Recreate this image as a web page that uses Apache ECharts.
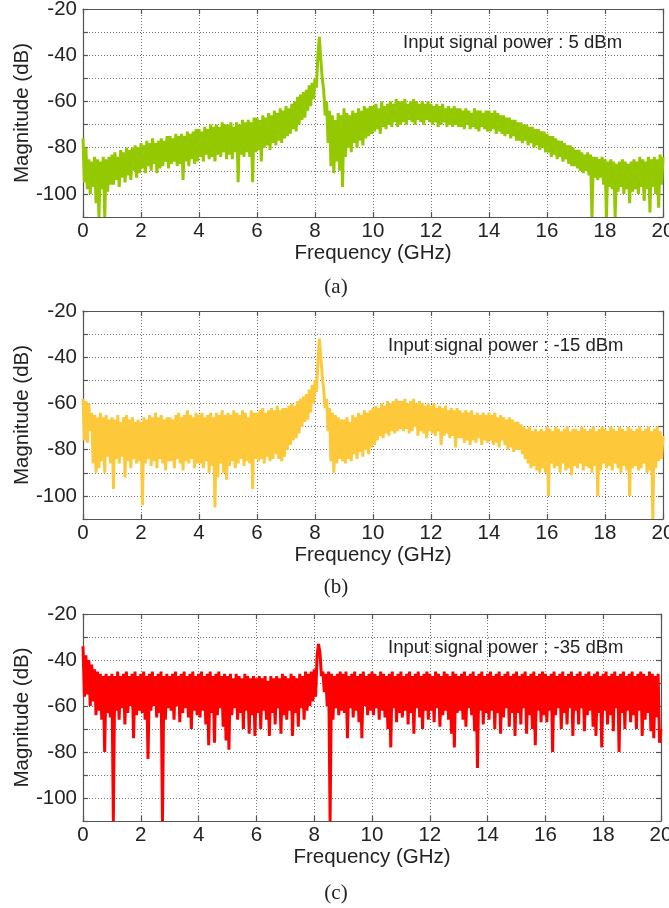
<!DOCTYPE html>
<html>
<head>
<meta charset="utf-8">
<script src="https://cdn.jsdelivr.net/npm/echarts@6/dist/echarts.min.js"></script>
<style>
  html,body{margin:0;padding:0;background:#fff;}
  #chart{width:669px;height:908px;}
</style>
</head>
<body>
<div id="chart"></div>
<script>
// spectra, 0..20 GHz, one row = 1 GHz (20 samples)
const magA = [
  -76,-95,-80,-98,-85,-100,-86,-97,-84,-104,-85,-110,-86,-98,-84,-110,-85,-99,-84,-96,
  -83,-96,-82,-94,-84,-97,-81,-93,-82,-95,-80,-92,-81,-94,-80,-90,-79,-93,-80,-91,
  -78,-89,-79,-91,-77,-88,-78,-90,-76,-87,-78,-91,-77,-89,-76,-88,-77,-86,-75,-89,
  -75,-87,-76,-86,-74,-88,-75,-87,-74,-94,-75,-86,-73,-88,-74,-85,-73,-87,-72,-86,
  -72,-84,-73,-86,-71,-83,-72,-85,-70,-84,-71,-86,-70,-83,-71,-84,-69,-82,-70,-85,
  -70,-83,-69,-85,-71,-82,-69,-95,-70,-83,-68,-84,-69,-82,-68,-84,-69,-95,-67,-82,
  -67,-81,-68,-86,-66,-80,-67,-79,-65,-81,-66,-78,-64,-79,-65,-77,-63,-78,-64,-76,
  -62,-75,-63,-74,-61,-72,-60,-73,-58,-70,-57,-68,-56,-67,-55,-64,-53,-62,-52,-59,
  -50,-54,-40,-32,-42,-50,-55,-66,-60,-78,-64,-88,-66,-91,-68,-86,-65,-90,-66,-97,
  -63,-84,-65,-80,-66,-82,-64,-78,-65,-80,-63,-77,-64,-79,-62,-76,-63,-75,-62,-74,
  -62,-73,-61,-72,-63,-74,-60,-71,-62,-72,-61,-70,-60,-71,-61,-69,-59,-71,-60,-70,
  -60,-69,-59,-70,-61,-68,-60,-69,-59,-70,-60,-68,-61,-69,-60,-70,-61,-68,-60,-69,
  -61,-70,-62,-69,-61,-71,-62,-70,-61,-69,-63,-71,-62,-70,-63,-71,-62,-70,-63,-71,
  -63,-71,-64,-72,-63,-70,-64,-72,-65,-71,-63,-72,-64,-73,-64,-71,-65,-72,-64,-73,
  -64,-73,-65,-72,-64,-74,-65,-73,-66,-74,-66,-75,-67,-74,-67,-76,-68,-75,-68,-77,
  -69,-77,-69,-78,-70,-77,-70,-79,-71,-78,-71,-80,-72,-79,-72,-81,-73,-80,-73,-82,
  -74,-82,-75,-84,-75,-83,-76,-85,-77,-84,-77,-86,-78,-85,-79,-87,-79,-88,-80,-88,
  -81,-89,-81,-90,-82,-91,-83,-90,-82,-92,-83,-110,-84,-93,-84,-94,-85,-93,-84,-96,
  -85,-110,-86,-97,-85,-98,-86,-110,-87,-99,-86,-97,-85,-100,-86,-98,-87,-104,-86,-99,
  -85,-98,-86,-100,-84,-97,-85,-103,-86,-98,-84,-108,-85,-97,-84,-100,-85,-106,-83,-96,
  -84
]
const magB = [
  -58,-76,-59,-77,-60,-72,-64,-86,-65,-90,-66,-88,-64,-85,-66,-90,-65,-83,-67,-86,
  -66,-97,-67,-84,-65,-86,-68,-83,-66,-92,-65,-85,-67,-88,-66,-84,-68,-86,-67,-85,
  -68,-104,-66,-86,-67,-84,-65,-87,-66,-85,-64,-88,-66,-84,-65,-86,-67,-89,-66,-85,
  -66,-85,-67,-88,-65,-84,-64,-86,-66,-89,-65,-85,-63,-86,-65,-84,-66,-88,-64,-86,
  -65,-86,-64,-88,-66,-85,-65,-90,-64,-87,-66,-105,-64,-92,-65,-86,-63,-90,-65,-93,
  -64,-87,-65,-85,-63,-88,-64,-86,-65,-84,-63,-87,-64,-85,-66,-86,-63,-97,-64,-84,
  -64,-85,-63,-84,-62,-86,-64,-83,-63,-85,-62,-84,-63,-82,-61,-84,-63,-85,-62,-83,
  -62,-80,-61,-78,-60,-76,-61,-75,-59,-73,-58,-70,-57,-68,-56,-67,-54,-64,-52,-60,
  -50,-55,-42,-32,-40,-48,-54,-62,-58,-72,-62,-85,-64,-90,-65,-86,-66,-84,-67,-85,
  -67,-86,-66,-84,-68,-85,-65,-82,-66,-84,-64,-81,-65,-83,-63,-80,-64,-82,-63,-79,
  -62,-78,-61,-76,-62,-74,-60,-75,-61,-73,-59,-74,-60,-72,-59,-73,-58,-72,-59,-71,
  -59,-72,-58,-71,-60,-73,-59,-72,-58,-70,-60,-74,-59,-72,-60,-73,-61,-75,-60,-72,
  -61,-73,-60,-74,-62,-72,-61,-78,-62,-74,-61,-73,-63,-75,-62,-74,-63,-79,-62,-75,
  -63,-75,-64,-77,-63,-76,-64,-78,-63,-76,-65,-77,-64,-75,-65,-78,-64,-76,-65,-77,
  -64,-76,-65,-78,-64,-77,-66,-79,-65,-76,-66,-78,-67,-80,-66,-79,-67,-81,-68,-80,
  -68,-80,-69,-82,-70,-84,-71,-86,-70,-88,-72,-87,-71,-89,-72,-90,-71,-88,-72,-90,
  -70,-100,-71,-86,-72,-88,-70,-87,-71,-90,-72,-86,-71,-89,-70,-88,-72,-91,-71,-87,
  -71,-88,-72,-86,-70,-89,-71,-87,-72,-88,-71,-90,-70,-87,-72,-100,-71,-89,-70,-86,
  -71,-88,-72,-87,-70,-89,-71,-86,-72,-88,-70,-90,-71,-87,-72,-89,-70,-100,-71,-88,
  -72,-87,-71,-89,-70,-88,-72,-86,-71,-90,-70,-89,-72,-110,-71,-88,-70,-85,-72,-84,
  -74
]
const magC = [
  -34,-56,-38,-55,-40,-60,-42,-58,-44,-64,-45,-62,-46,-66,-47,-80,-46,-63,-47,-65,
  -46,-110,-47,-62,-45,-66,-47,-61,-46,-68,-45,-63,-47,-60,-46,-74,-45,-64,-47,-62,
  -46,-63,-45,-66,-47,-83,-46,-62,-45,-60,-47,-65,-46,-63,-45,-110,-47,-66,-46,-61,
  -47,-62,-46,-66,-45,-60,-47,-67,-46,-63,-45,-61,-47,-65,-46,-70,-45,-62,-47,-64,
  -46,-65,-45,-62,-47,-68,-46,-77,-45,-63,-47,-76,-46,-64,-45,-61,-47,-69,-46,-75,
  -47,-79,-46,-64,-48,-61,-46,-66,-47,-63,-48,-70,-46,-62,-47,-72,-48,-64,-47,-73,
  -48,-63,-47,-70,-48,-62,-47,-66,-49,-73,-47,-63,-48,-68,-47,-61,-48,-72,-46,-64,
  -47,-66,-48,-62,-46,-73,-47,-63,-48,-69,-46,-61,-47,-66,-45,-62,-46,-60,-45,-58,
  -44,-56,-38,-33,-37,-47,-45,-54,-46,-60,-45,-110,-46,-66,-47,-61,-46,-64,-45,-62,
  -46,-63,-45,-74,-47,-61,-46,-65,-45,-62,-47,-67,-46,-74,-45,-60,-47,-64,-46,-62,
  -45,-64,-46,-61,-47,-66,-45,-62,-46,-65,-47,-70,-46,-78,-45,-61,-47,-67,-46,-63,
  -45,-65,-47,-62,-46,-68,-45,-63,-47,-72,-46,-61,-45,-65,-47,-70,-46,-62,-45,-66,
  -46,-62,-47,-67,-45,-61,-46,-69,-47,-64,-45,-62,-46,-66,-47,-72,-45,-78,-46,-63,
  -47,-62,-46,-66,-45,-69,-47,-61,-46,-64,-45,-71,-47,-87,-46,-62,-45,-68,-47,-63,
  -46,-66,-45,-62,-47,-70,-46,-63,-45,-72,-47,-65,-46,-61,-45,-69,-47,-63,-46,-73,
  -45,-63,-47,-68,-46,-61,-45,-72,-47,-64,-46,-70,-45,-77,-47,-62,-46,-67,-45,-64,
  -46,-67,-47,-62,-46,-80,-45,-64,-47,-61,-46,-70,-45,-63,-47,-68,-46,-61,-45,-73,
  -47,-62,-46,-68,-45,-61,-47,-71,-46,-64,-45,-62,-47,-69,-46,-73,-45,-63,-47,-78,
  -46,-62,-45,-68,-47,-64,-46,-71,-45,-61,-47,-80,-46,-63,-45,-70,-47,-62,-46,-67,
  -45,-64,-47,-70,-46,-62,-45,-73,-46,-66,-47,-63,-45,-71,-46,-74,-47,-65,-46,-76,
  -70
]
const powerLabels = ['Input signal power : 5 dBm','Input signal power : -15 dBm','Input signal power : -35 dBm']
const captions = ['(a)','(b)','(c)']
const colors = ['#94c800','#fdc839','#ff0000']

const freqMax = 20
const magMin = -110, magMax = -20

// panel boxes (px)
const boxes = [
  {left:83, top:9, width:580, height:208},
  {left:83, top:311, width:580, height:208},
  {left:83, top:614, width:578, height:207}
]
const textPos = [
  {note:[403,43], cap:[336,287]},
  {note:[388,346], cap:[336,587]},
  {note:[388,648], cap:[336,893]}
]

const sans = '"Liberation Sans", Arial, sans-serif'
const boxLine = {color:'#555', width:1.2}
const gridLine = {color:'#777', type:[1,2], width:1}
const fs = 20.5

function toPoints(arr){
  // samples are evenly spread over 0..20 GHz
  let step = freqMax/(arr.length-1)
  return arr.map((v,i)=>[+(i*step).toFixed(3), v])
}

let grids=[], xAxes=[], yAxes=[], series=[], graphic=[]
const mags=[magA,magB,magC]
for(let i=0;i<3;i++){
  // keep the boxes where they are, labels may stick out
  grids.push(Object.assign({containLabel:false, outerBoundsMode:'none'}, boxes[i]))
  xAxes.push({
    gridIndex:i, type:'value', min:0, max:freqMax, interval:2,
    axisLine:{show:true, onZero:false, lineStyle:boxLine},
    axisTick:{inside:true, length:5, lineStyle:boxLine},
    axisLabel:{fontSize:fs, fontFamily:sans, color:'#222', margin:4},
    splitLine:{show:true, lineStyle:gridLine},
    name:'Frequency (GHz)', nameLocation:'middle', nameGap:26,
    nameTextStyle:{fontSize:fs, fontFamily:sans, color:'#222'}
  })
  xAxes.push({
    gridIndex:i, type:'value', position:'top', min:0, max:freqMax, interval:2,
    axisLine:{show:true, onZero:false, lineStyle:boxLine},
    axisTick:{inside:true, length:5, lineStyle:boxLine},
    axisLabel:{show:false}, splitLine:{show:false}
  })
  yAxes.push({
    gridIndex:i, type:'value', min:magMin, max:magMax, interval:10,
    axisLine:{show:true, onZero:false, lineStyle:boxLine},
    axisTick:{inside:true, length:5, lineStyle:boxLine},
    axisLabel:{fontSize:fs, fontFamily:sans, color:'#222', margin:6,
      formatter:v=> v%20===0 ? String(v) : ''},
    splitLine:{show:true, lineStyle:gridLine},
    name:'Magnitude (dB)', nameLocation:'middle', nameGap:50, nameMoveOverlap:false,
    nameTextStyle:{fontSize:fs, fontFamily:sans, color:'#222'}
  })
  yAxes.push({
    gridIndex:i, type:'value', position:'right', min:magMin, max:magMax, interval:10,
    axisLine:{show:true, onZero:false, lineStyle:boxLine},
    axisTick:{inside:true, length:5, lineStyle:boxLine},
    axisLabel:{show:false}, splitLine:{show:false}
  })
  series.push({
    type:'line', xAxisIndex:2*i, yAxisIndex:2*i,
    data:toPoints(mags[i]), showSymbol:false, symbol:'none',
    lineStyle:{width:3, color:colors[i]}, itemStyle:{color:colors[i]},
    animation:false, z:1
  })
  graphic.push({
    type:'text', x:textPos[i].note[0], y:textPos[i].note[1],
    style:{text:powerLabels[i], fontSize:18.5, fontFamily:sans, fill:'#222', verticalAlign:'middle'}
  })
  graphic.push({
    type:'text', x:textPos[i].cap[0], y:textPos[i].cap[1],
    style:{text:captions[i], fontSize:21, fontFamily:'"Liberation Serif", "Times New Roman", serif',
      fill:'#222', align:'center', verticalAlign:'middle'}
  })
}

var myChart = echarts.init(document.getElementById('chart'))
myChart.setOption({
  animation:false,
  backgroundColor:'#fff',
  grid:grids,
  xAxis:xAxes,
  yAxis:yAxes,
  series:series,
  graphic:graphic
})
</script>
</body>
</html>
